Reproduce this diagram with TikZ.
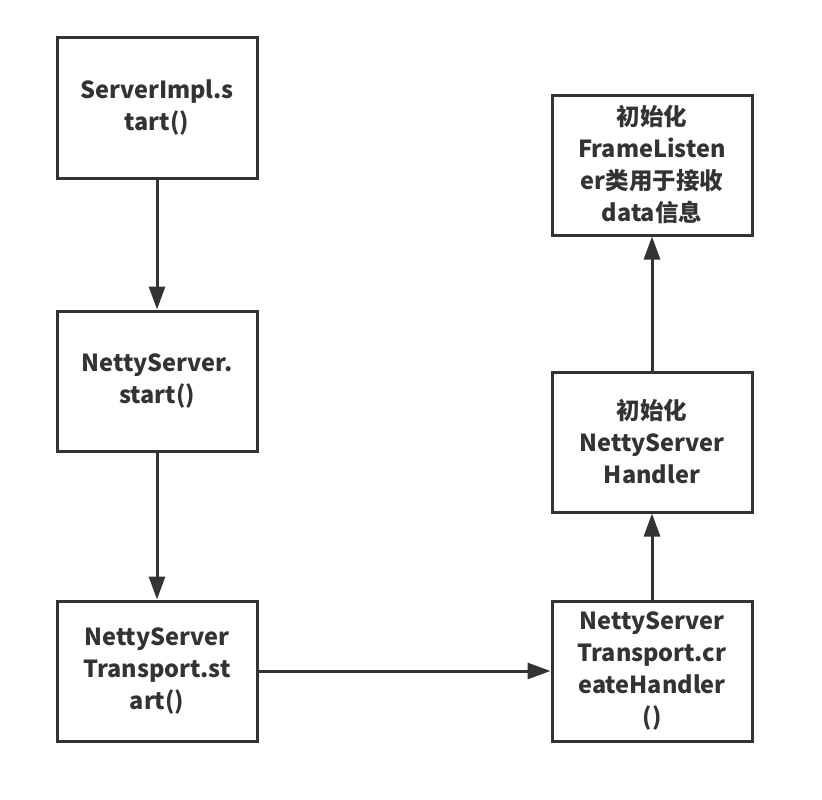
\documentclass[tikz,border=0pt]{standalone}
\usepackage{fontspec}
\setmainfont{Noto Sans CJK SC}
\usetikzlibrary{arrows.meta}
\definecolor{ink}{HTML}{333333}
\begin{document}
\begin{tikzpicture}[x=1pt,y=-1pt,
  box/.style={draw=ink,line width=3pt,minimum width=200pt,minimum height=140pt,
    align=center,font=\fontsize{23.5}{32}\selectfont\bfseries,text=ink,inner sep=0pt},
  conn/.style={draw=ink,line width=3pt,-{Triangle[width=16pt,length=23pt]}}]
\useasboundingbox (0,0) rectangle (822,800);
\node[box] (a) at (157,108) {ServerImpl.s\\tart()};
\node[box] (b) at (157,381) {NettyServer.\\start()};
\node[box] (c) at (157,671) {NettyServer\\Transport.st\\art()};
\node[box] (d) at (652,671) {NettyServer\\Transport.cr\\eateHandler\\()};
\node[box] (e) at (652,442) {初始化\\NettyServer\\Handler};
\node[box] (f) at (652,165) {初始化\\FrameListen\\er类用于接收\\data信息};
\draw[conn] (a) -- (b);
\draw[conn] (b) -- (c);
\draw[conn] (c) -- (d);
\draw[conn] (d) -- (e);
\draw[conn] (e) -- (f);
\end{tikzpicture}
\end{document}
